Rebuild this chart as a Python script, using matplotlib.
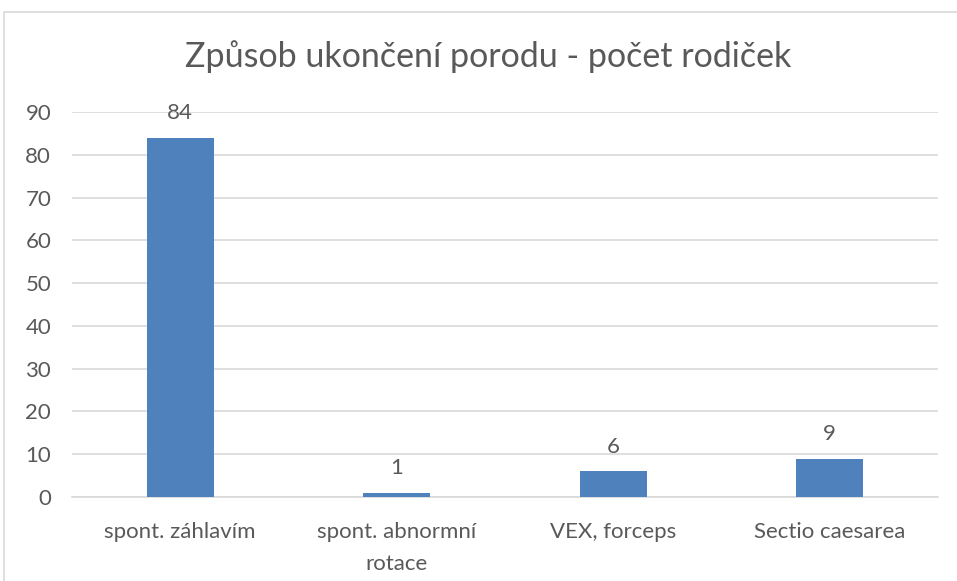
import matplotlib.pyplot as plt
from matplotlib.patches import Rectangle

categories = ["spont. záhlavím", "spont. abnormní\nrotace", "VEX, forceps", "Sectio caesarea"]
counts = [84, 1, 6, 9]
yticks = [0, 10, 20, 30, 40, 50, 60, 70, 80, 90]

TEXT = "#595959"
GRID = "#D9D9D9"
BAR = "#4F81BD"

plt.rcParams['font.family'] = ['Lato', 'DejaVu Sans']

fig = plt.figure(figsize=(9.57, 5.81), dpi=100)
fig.patches.append(Rectangle((4 / 957, -0.1), 1.2, 1 - 12 / 581 + 0.1, transform=fig.transFigure,
                             fill=False, edgecolor=GRID, linewidth=1.2))

ax = fig.add_axes([72 / 957, 1 - 497 / 581, (938 - 72) / 957, (497 - 112) / 581])
x = range(len(categories))
bars = ax.bar(x, counts, width=0.31, color=BAR, zorder=3)
for b, v in zip(bars, counts):
    ax.text(b.get_x() + b.get_width() / 2, v + 5.8, str(v), ha='center', va='center',
            fontsize=16, color=TEXT)

ax.set_xlim(-0.5, len(categories) - 0.5)
ax.set_ylim(0, 90)
ax.set_yticks(yticks)
ax.set_xticks(list(x))
ax.set_xticklabels(categories, fontsize=16, color=TEXT, linespacing=1.75)
ax.tick_params(axis='y', labelsize=16, labelcolor=TEXT, length=0, pad=15)
ax.tick_params(axis='x', length=0, pad=18)
ax.yaxis.grid(True, color=GRID, linewidth=1.2, zorder=0)
for s in ['top', 'right', 'left']:
    ax.spines[s].set_visible(False)
ax.spines['bottom'].set_color(GRID)
ax.spines['bottom'].set_linewidth(1.2)

fig.text(488 / 957, 1 - 57 / 581, "Způsob ukončení porodu - počet rodiček", ha='center', va='center',
         fontsize=24.5, color=TEXT)

fig.savefig("out.png", dpi=100)
